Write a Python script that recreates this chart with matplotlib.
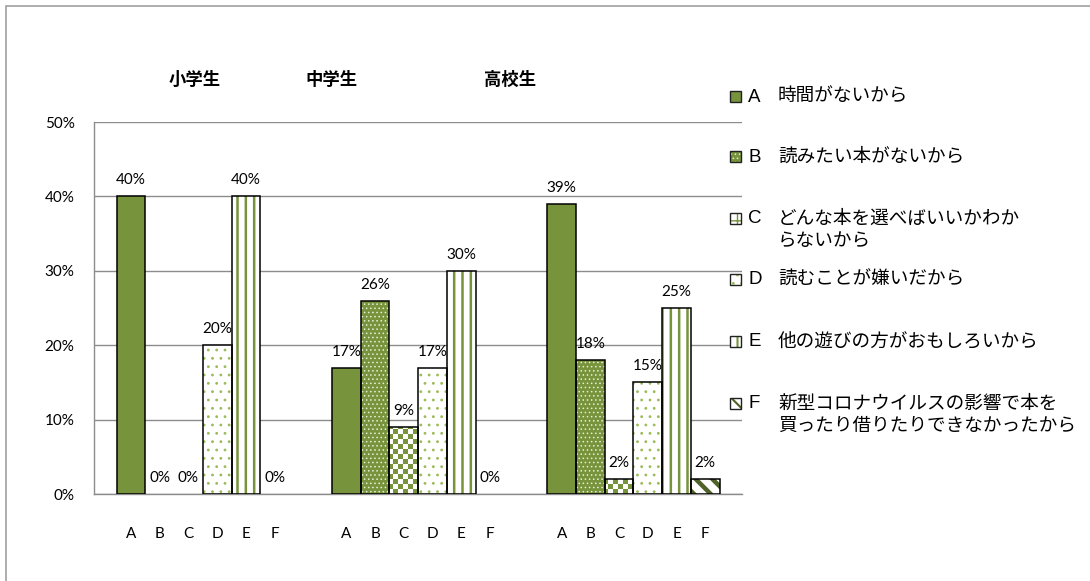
import matplotlib
matplotlib.use('Agg')
import matplotlib.pyplot as plt
import numpy as np
from matplotlib.patches import Rectangle
from matplotlib.colors import ListedColormap

# ---------------- data ----------------
groups = ['小学生', '中学生', '高校生']
categories = ['A', 'B', 'C', 'D', 'E', 'F']
legend_labels = ['時間がないから',
                 '読みたい本がないから',
                 'どんな本を選べばいいかわか\nらないから',
                 '読むことが嫌いだから',
                 '他の遊びの方がおもしろいから',
                 '新型コロナウイルスの影響で本を\n買ったり借りたりできなかったから']
elementary = [40, 0, 0, 20, 40, 0]
junior = [17, 26, 9, 17, 30, 0]
high = [39, 18, 2, 15, 25, 2]
values = [elementary, junior, high]
yticks = [0, 10, 20, 30, 40, 50]

# ---------------- style ----------------
OLIVE = '#77933C'
LIGHT = '#9BBB59'
DARK = '#4F6228'
styles = [
    dict(face=OLIVE, hatch=None, hc=OLIVE, hlw=1.0),
    dict(face=OLIVE, hatch='....', hc='#E6EED5', hlw=0.6),
    dict(face='white', hatch='checker', hc=OLIVE, hlw=1.0),
    dict(face='white', hatch='..', hc=LIGHT, hlw=0.8),
    dict(face='white', hatch='||', hc=OLIVE, hlw=1.8),
    dict(face='white', hatch='\\\\', hc=DARK, hlw=3.2),
]

JP = ['Noto Sans CJK JP', 'DejaVu Sans']
NUM = ['Lato', 'DejaVu Sans']
plt.rcParams['font.family'] = JP

W, H = 1090, 581
fig = plt.figure(figsize=(W / 100, H / 100), dpi=100)
ax = fig.add_axes([94 / W, 1 - 494 / H, (742 - 94) / W, (494 - 122) / H])

group_step = 7.5
xlim = (-1.29, 2 * group_step + 5 + 1.28)
ax.set_xlim(*xlim)
ax.set_ylim(0, 50)

for g, vals in enumerate(values):
    xs = [g * group_step + i for i in range(len(categories))]
    for i, (x, v) in enumerate(zip(xs, vals)):
        st = styles[i]
        if v > 0:
            if st['hatch'] == 'checker':
                fill = ax.bar([x], [v], width=1.0, color='white', linewidth=0, zorder=2)
                nx, ny = 130, 74
                yy, xx = np.mgrid[0:ny, 0:nx]
                img = ((xx + yy) % 2).astype(float)
                im = ax.imshow(img, extent=(xlim[0], xlim[1], 0, 50), origin='lower',
                               aspect='auto', interpolation='nearest',
                               cmap=ListedColormap([OLIVE, 'white']), zorder=2.5)
                im.set_clip_path(fill.patches[0])
            else:
                with plt.rc_context({'hatch.linewidth': st['hlw']}):
                    b = ax.bar([x], [v], width=1.0, color=st['face'],
                               edgecolor=st['hc'], linewidth=0,
                               hatch=st['hatch'], zorder=2)
                for p in b.patches:
                    if hasattr(p, 'set_hatch_linewidth'):
                        p.set_hatch_linewidth(st['hlw'])
            ax.bar([x], [v], width=1.0, fill=False, edgecolor='black',
                   linewidth=1.1, zorder=3)
        ax.annotate(f'{v}%', (x, v), xytext=(0, 11.5), textcoords='offset points',
                    ha='center', va='center', fontsize=11, family=NUM, zorder=4)

# x ticks
xt = [g * group_step + i for g in range(len(groups)) for i in range(len(categories))]
ax.set_xticks(xt)
ax.set_xticklabels(categories * len(groups), family=NUM, fontsize=11)
ax.set_yticks(yticks)
ax.set_yticklabels([f'{t}%' for t in yticks], family=NUM, fontsize=11)
ax.tick_params(axis='x', length=0, pad=24)
ax.tick_params(axis='y', length=0, pad=14)

ax.grid(axis='y', color='#8C8C8C', linewidth=1.0, zorder=0)
ax.set_axisbelow(True)
for s in ['top', 'right']:
    ax.spines[s].set_visible(False)
for s in ['left', 'bottom']:
    ax.spines[s].set_color('#8C8C8C')
    ax.spines[s].set_linewidth(1.0)

# group titles
title_x = [2.23, 6.97, 13.2]
for tx, name in zip(title_x, groups):
    ax.text(tx, 55.6, name, ha='center', va='center', fontsize=12.5,
            fontweight='bold', clip_on=False)

# legend (manual)
entry_y = [97, 157, 219, 280, 342, 404]
line_h = 22
for i, (cat, lab) in enumerate(zip(categories, legend_labels)):
    yc = entry_y[i]
    st = styles[i]
    sx, sy, sw = 730, yc - 6, 11
    hatch = st['hatch']
    face = st['face']
    if hatch == 'checker':
        hatch = '++'
    with plt.rc_context({'hatch.linewidth': min(st['hlw'], 1.5)}):
        r = Rectangle((sx / W, 1 - (sy + sw) / H), sw / W, sw / H, transform=fig.transFigure,
                      facecolor=face, edgecolor=st['hc'], linewidth=0, hatch=hatch)
    fig.add_artist(r)
    fig.add_artist(Rectangle((sx / W, 1 - (sy + sw) / H), sw / W, sw / H,
                             transform=fig.transFigure, fill=False,
                             edgecolor='#222222', linewidth=1.0))
    fig.text(748 / W, 1 - yc / H, cat, ha='left', va='center', fontsize=13.5,
             family=['Liberation Sans', 'DejaVu Sans'])
    for k, line in enumerate(lab.split('\n')):
        fig.text(778 / W, 1 - (yc + k * line_h) / H, line, ha='left', va='center',
                 fontsize=13.4)

# outer frame (partially visible)
fig.add_artist(Rectangle((6 / W, -0.1), 1.2, 1.1 - 6 / H, transform=fig.transFigure,
                         fill=False, edgecolor='#A0A0A0', linewidth=1.2))

fig.savefig('out.png', dpi=100)
